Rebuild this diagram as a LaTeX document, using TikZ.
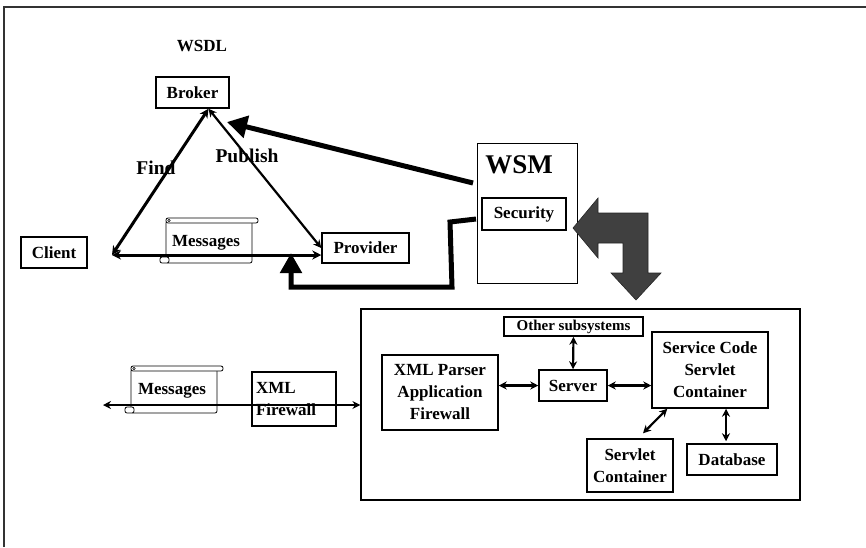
\documentclass[tikz,border=0pt]{standalone}
\usepackage{fontspec}
\setmainfont{Liberation Serif}
\usetikzlibrary{arrows.meta}

\definecolor{bendgray}{HTML}{404040}

% scroll symbol: body left, top, body right, bottom
\newcommand{\msgscroll}[4]{%
  \filldraw[fill=white, line width=0.8pt, rounded corners=2pt] (#1,#2+3) rectangle (#3,#4);
  \filldraw[fill=white, line width=0.8pt, rounded corners=2pt] (#1-6,#4-6) rectangle (#1+3,#4);
  \filldraw[fill=white, line width=0.8pt, rounded corners=2pt] (#1,#2) rectangle (#3+6,#2+5);
  \draw[line width=0.6pt] (#1+3,#2+2.5) circle (1.3);
}

\tikzset{
  box/.style={draw, line width=1.5pt, fill=white, inner sep=0pt, align=center,
    font=\bfseries\fontsize{17}{22}\selectfont},
  tag/.style={inner sep=0pt, font=\bfseries\fontsize{17}{22}\selectfont},
  dbl/.style={line width=2.2pt, {Stealth[length=8pt,width=8pt]}-{Stealth[length=8pt,width=8pt]}},
  fat/.style={line width=5pt, line join=miter, -{Triangle[length=20pt,width=22pt]}},
}

\begin{document}
\begin{tikzpicture}[x=1pt, y=-1pt]
\useasboundingbox (0,0) rectangle (866,547);

% outer frame (only top and left show)
\draw[line width=2pt, black!80] (4,547) -- (4,6.5) -- (866,6.5);

% WSDL triangle
\node[tag] (wsdl) at (202,46) {WSDL};
\node[box, minimum width=73, minimum height=31] (broker) at (192.5,92.5) {Broker};
\node[box, minimum width=66, minimum height=31] (client) at (54,252.5) {Client};
\node[box, minimum width=87, minimum height=30] (provider) at (365.5,248) {Provider};

\msgscroll{166}{218}{252}{263}
\node[tag] (msgtop) at (206,243) {Messages};

\coordinate (apex) at ([xshift=16pt]broker.south);
\coordinate (lv) at (112,255);
\draw[line width=3pt, {Stealth[length=9pt,width=9pt]}-{Stealth[length=9pt,width=9pt]}] (lv) -- (apex);
\draw[line width=2.2pt, {Stealth[length=8pt,width=8pt]}-{Stealth[length=8pt,width=8pt]}] (provider.west) -- (apex);
\draw[line width=3pt, {Stealth[length=9pt,width=9pt]}-{Stealth[length=9pt,width=9pt]}] (lv) -- (lv -| provider.west);

\node[tag, font=\bfseries\fontsize{19.5}{22}\selectfont] (find) at (156,168) {Find};
\node[tag, font=\bfseries\fontsize{19.5}{22}\selectfont] (publish) at (247,156) {Publish};

% WSM with security module
\node[box, line width=1pt, minimum width=100, minimum height=140] (wsm) at (527,213) {};
\node[tag, font=\bfseries\fontsize{27}{30}\selectfont] (wsmlabel) at (519,165) {WSM};
\node[box, minimum width=84, minimum height=32] (sec) at (524,214) {Security};

% thick links out of WSM
\coordinate (wsmout) at (473,183);
\coordinate (brokerin) at (227,122);
\draw[fat] (wsmout) -- (brokerin);

\coordinate (secout) at (476,219);
\coordinate (msgtip) at (291,253);
\draw[fat, -{Triangle[length=20pt,width=21pt]}] (secout) -- (450,222) -- (452,287) -- (291,287) -- (msgtip);

% bent arrow down to the host
\filldraw[fill=bendgray, draw=black!85, line width=0.6pt]
  (573,228) -- (598,198) -- (598,213) -- (648,213) -- (648,273) -- (661,273)
  -- (636,300) -- (611,273) -- (623,273) -- (623,243) -- (598,243) -- (598,258) -- cycle;

% host with its subsystems
\node[box, line width=1.2pt, minimum width=439, minimum height=191] (host) at (580.5,404.5) {};
\node[box, minimum width=116, minimum height=75] (parser) at (440,392.5) {XML Parser\\Application\\Firewall};
\node[box, minimum width=68, minimum height=31] (server) at (573,385.5) {Server};
\node[box, minimum width=139, minimum height=19, font=\bfseries\fontsize{15}{16}\selectfont] (other) at (573.5,326.5) {Other subsystems};
\node[box, minimum width=116, minimum height=76] (svc) at (710,370) {Service Code\\Servlet\\Container};
\node[box, minimum width=86, minimum height=53] (servlet) at (630,465.5) {Servlet\\Container};
\node[box, minimum width=90, minimum height=31] (db) at (732,459.5) {Database};

\draw[dbl] (parser.east |- server) -- (server.west);
\draw[dbl] (server.east) -- (server.east -| svc.west);
\draw[dbl] (other.south) -- (server.north);
\draw[dbl] ([xshift=16pt]svc.south west) -- ([xshift=13pt,yshift=5pt]servlet.north);
\draw[dbl] ([xshift=16pt]svc.south) -- ([xshift=-6pt,yshift=2pt]db.north);

% messages through the XML firewall
\msgscroll{131}{366}{217}{413}
\node[tag] (msglow) at (172,391) {Messages};
\node[box, align=left, minimum width=84, minimum height=54, text width=76] (xmlfw) at (294,399) {XML\\Firewall};

\coordinate (farleft) at (103,405);
\draw[dbl, line width=2pt] (farleft) -- (farleft -| host.west);
\end{tikzpicture}
\end{document}
